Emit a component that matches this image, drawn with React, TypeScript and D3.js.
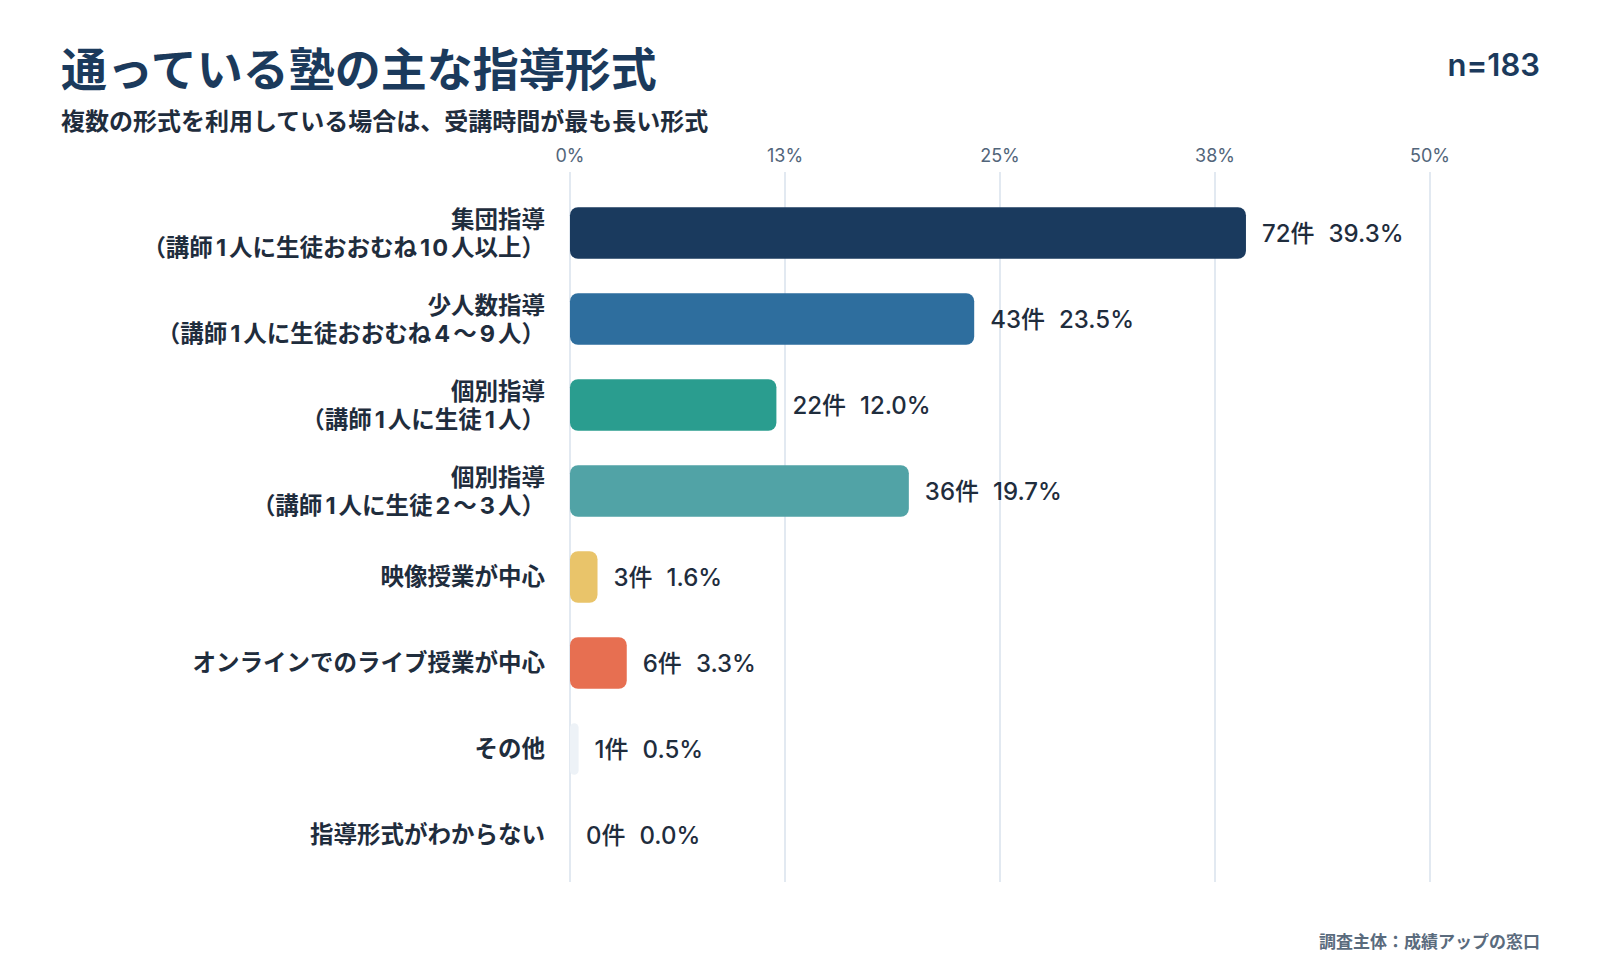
import React from 'react';
import * as d3 from 'd3';

const categories: string[][] = [
  ['集団指導', '（講師1人に生徒おおむね10人以上）'],
  ['少人数指導', '（講師1人に生徒おおむね4〜9人）'],
  ['個別指導', '（講師1人に生徒1人）'],
  ['個別指導', '（講師1人に生徒2〜3人）'],
  ['映像授業が中心'],
  ['オンラインでのライブ授業が中心'],
  ['その他'],
  ['指導形式がわからない'],
];
const counts = [72, 43, 22, 36, 3, 6, 1, 0];
const percents = [39.3, 23.5, 12.0, 19.7, 1.6, 3.3, 0.5, 0.0];
const barColors = ['#1a3a5e', '#2e6e9e', '#2a9d8f', '#51a3a6', '#e9c46a', '#e76f51', '#edf2f7', '#edf2f7'];
const tickValues = [0, 12.5, 25, 37.5, 50];

const title = '通っている塾の主な指導形式';
const subtitle = '複数の形式を利用している場合は、受講時間が最も長い形式';
const sampleSize = 'n=183';
const source = '調査主体：成績アップの窓口';

const W = 1600;
const H = 980;
const FONT = "Inter, 'Noto Sans CJK JP', sans-serif";
const JP = "'Noto Sans CJK JP', sans-serif";

// digits in the labels are set a bit wider than the CJK around them
function spaced(s: string) {
  const parts = s.split(/(\d+)/).filter((p) => p.length > 0);
  let prevDigit = false;
  return parts.map((p, k) => {
    const isDigit = /^\d+$/.test(p);
    const dx = isDigit ? 3 : prevDigit ? 1 : 0;
    prevDigit = isDigit;
    return (
      <tspan key={k} dx={dx} style={isDigit ? { letterSpacing: '2px' } : undefined}>
        {p}
      </tspan>
    );
  });
}

export default function App() {
  const x = d3.scaleLinear().domain([0, 50]).range([570, 1430]);
  const y = d3
    .scaleBand<number>()
    .domain(d3.range(categories.length))
    .range([190, 878])
    .paddingInner(0.4)
    .paddingOuter(0.2);

  const bh = y.bandwidth();

  return (
    <div style={{ position: 'fixed', left: 0, top: 0, width: W, height: H, background: '#fff' }}>
      <svg width={W} height={H} style={{ display: 'block' }}>
        <rect width={W} height={H} fill="#fff" />

        <text x={61} y={86} fontFamily={JP} fontSize={46} fontWeight={700} fill="#1b3a5c">
          {title}
        </text>
        <text x={61} y={130} fontFamily={JP} fontSize={24} fontWeight={700} fill="#1f2d3d">
          {subtitle}
        </text>
        <text x={1540} y={76} textAnchor="end" fontFamily={FONT} fontSize={31} fontWeight={600} fill="#1b3a5c">
          {sampleSize}
        </text>

        {/* grid + ticks */}
        {tickValues.map((t) => (
          <g key={t}>
            <line x1={x(t)} x2={x(t)} y1={172} y2={882} stroke="#d9e2ec" strokeWidth={1.5} />
            <text x={x(t)} y={162} textAnchor="middle" fontFamily={FONT} fontSize={18} fill="#52657a">
              {`${Math.round(t)}%`}
            </text>
          </g>
        ))}

        {/* bars */}
        {categories.map((lines, i) => {
          const y0 = y(i) ?? 0;
          const cy = y0 + bh / 2;
          const w = x(percents[i]) - x(0);
          return (
            <g key={i}>
              {w > 0 && (
                <rect
                  x={x(0)}
                  y={y0}
                  width={w}
                  height={bh}
                  rx={Math.min(8, w / 2)}
                  fill={barColors[i]}
                />
              )}
              <text
                x={x(percents[i]) + 16}
                y={cy + 9}
                fontFamily={FONT}
                fontSize={24}
                fontWeight={500}
                fill="#1f2d3d"
              >
                <tspan>{`${counts[i]}件`}</tspan>
                <tspan dx={14}>{`${percents[i].toFixed(1)}%`}</tspan>
              </text>
              {lines.length === 1 ? (
                <text x={545} y={cy + 8} textAnchor="end" fontFamily={FONT} fontSize={23.5} fontWeight={700} fill="#1f2d3d">
                  {spaced(lines[0])}
                </text>
              ) : (
                <g fontFamily={FONT} fontSize={23.5} fontWeight={700} fill="#1f2d3d">
                  <text x={545} y={cy - 5} textAnchor="end">{spaced(lines[0])}</text>
                  <text x={545} y={cy + 23} textAnchor="end">{spaced(lines[1])}</text>
                </g>
              )}
            </g>
          );
        })}

        <text x={1540} y={948} textAnchor="end" fontFamily={JP} fontSize={17} fontWeight={700} fill="#5a6b7d">
          {source}
        </text>
      </svg>
    </div>
  );
}
